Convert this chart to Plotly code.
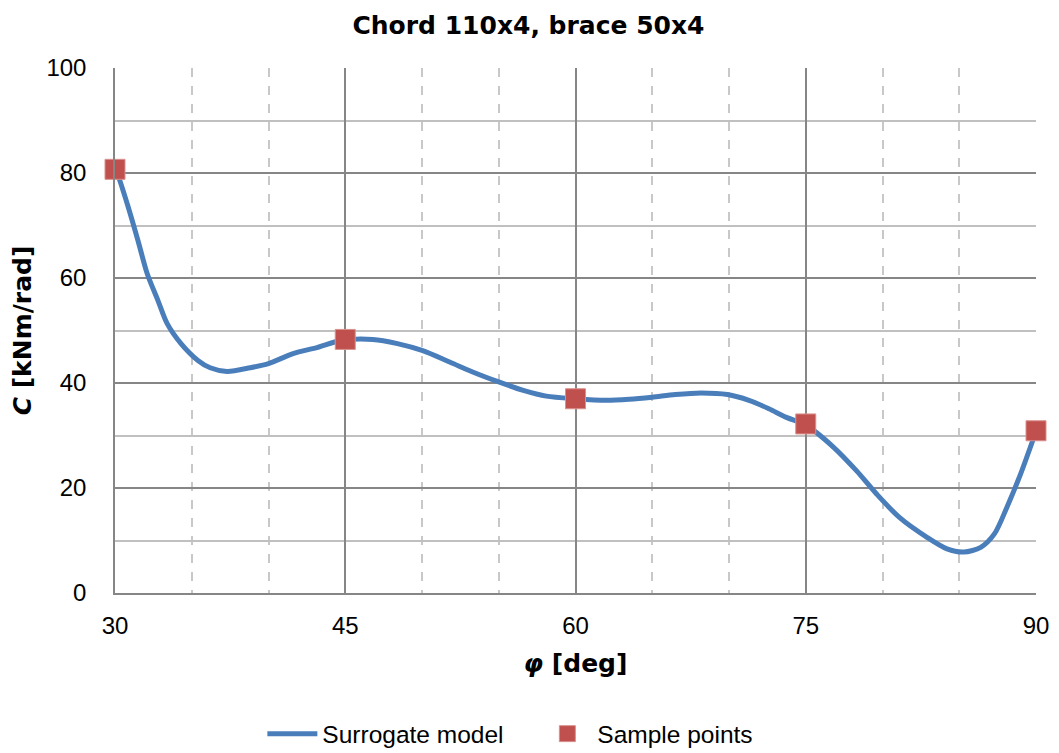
import plotly.graph_objects as go

# Surrogate model curve
phi_curve = [30.0, 30.2, 30.8, 31.5, 32.1, 32.8, 33.4, 34.3, 35.4, 36.2, 37.3, 38.8, 40.0,
             41.6, 43.2, 44.7, 46.8, 48.4, 50.0, 51.8, 53.3, 55.0, 56.6, 58.1, 60.0,
             62.0, 63.5, 65.0, 66.5, 68.2, 69.9, 71.3, 72.6, 73.7, 75.0,
             76.8, 78.3, 79.6, 81.1, 82.9, 84.2, 85.3, 86.4, 87.3, 88.1, 89.0, 90.0]
c_curve = [80.7, 79.5, 74.1, 67.1, 60.8, 55.7, 51.3, 47.5, 44.3, 42.9, 42.2, 42.9, 43.7,
           45.6, 46.8, 48.1, 48.3, 47.5, 46.2, 44.0, 42.1, 40.2, 38.6, 37.5, 37.0,
           36.7, 36.9, 37.3, 37.8, 38.1, 37.8, 36.7, 35.1, 33.5, 32.0,
           27.8, 23.3, 18.9, 14.4, 10.6, 8.4, 7.8, 8.7, 11.3, 16.3, 22.7, 30.8]

# Sample points
phi_samples = [30, 45, 60, 75, 90]
c_samples = [80.7, 48.3, 37.0, 32.2, 30.9]

x_ticks = [30, 45, 60, 75, 90]
y_ticks = [0, 20, 40, 60, 80, 100]

FONT = "Liberation Sans, Arial, sans-serif"
BOLD = "DejaVu Sans, sans-serif"

fig = go.Figure()
fig.add_trace(go.Scatter(
    x=phi_curve, y=c_curve, mode="lines", name="Surrogate model",
    line=dict(color="#4a7ebb", width=5, shape="spline", smoothing=0.8),
))
fig.add_trace(go.Scatter(
    x=phi_samples, y=c_samples, mode="markers", name="Sample points",
    marker=dict(symbol="square", size=20, color="#c0504d",
                line=dict(color="#d9908e", width=1)),
    cliponaxis=False,
))

fig.update_layout(
    width=1051, height=745,
    margin=dict(l=107, r=23, t=60, b=160, autoexpand=False),
    paper_bgcolor="white", plot_bgcolor="white",
    font=dict(family=FONT, size=24, color="black"),
    title=dict(text="<b>Chord 110x4, brace 50x4</b>", x=520.5 / 1051, xanchor="center",
               y=1 - 17 / 745, yanchor="middle", font=dict(family=BOLD, size=25)),
    showlegend=True,
    legend=dict(orientation="h", x=0.16, xanchor="left", y=-0.268, yanchor="middle",
                font=dict(family=FONT, size=24.5), itemwidth=50, entrywidth=210,
                entrywidthmode="pixels"),
)

fig.update_xaxes(
    range=[30, 90], tickvals=x_ticks, ticktext=[str(v) for v in x_ticks],
    showgrid=True, gridcolor="#868686", gridwidth=1.5,
    minor=dict(dtick=5, tick0=30, showgrid=True, gridcolor="#c8c8c8", griddash="dash", gridwidth=1.5),
    showline=True, linecolor="#868686", linewidth=1.5, zeroline=False,
    ticks="", ticklabelstandoff=10, tickfont=dict(size=24),
    title=dict(text="<b><i>φ</i> [deg]</b>", font=dict(family=BOLD, size=25), standoff=17),
)
fig.update_yaxes(
    range=[0, 100], tickvals=y_ticks, ticktext=[str(v) for v in y_ticks],
    showgrid=True, gridcolor="#868686", gridwidth=1.5,
    minor=dict(dtick=10, tick0=0, showgrid=True, gridcolor="#c0c0c0", gridwidth=1.5),
    showline=True, linecolor="#868686", linewidth=1.5, zeroline=False,
    ticks="", ticklabelstandoff=22, tickfont=dict(size=24),
    title=dict(text="<b><i>C</i> [kNm/rad]</b>", font=dict(family=BOLD, size=25), standoff=10),
)

fig.write_html("out.html")
